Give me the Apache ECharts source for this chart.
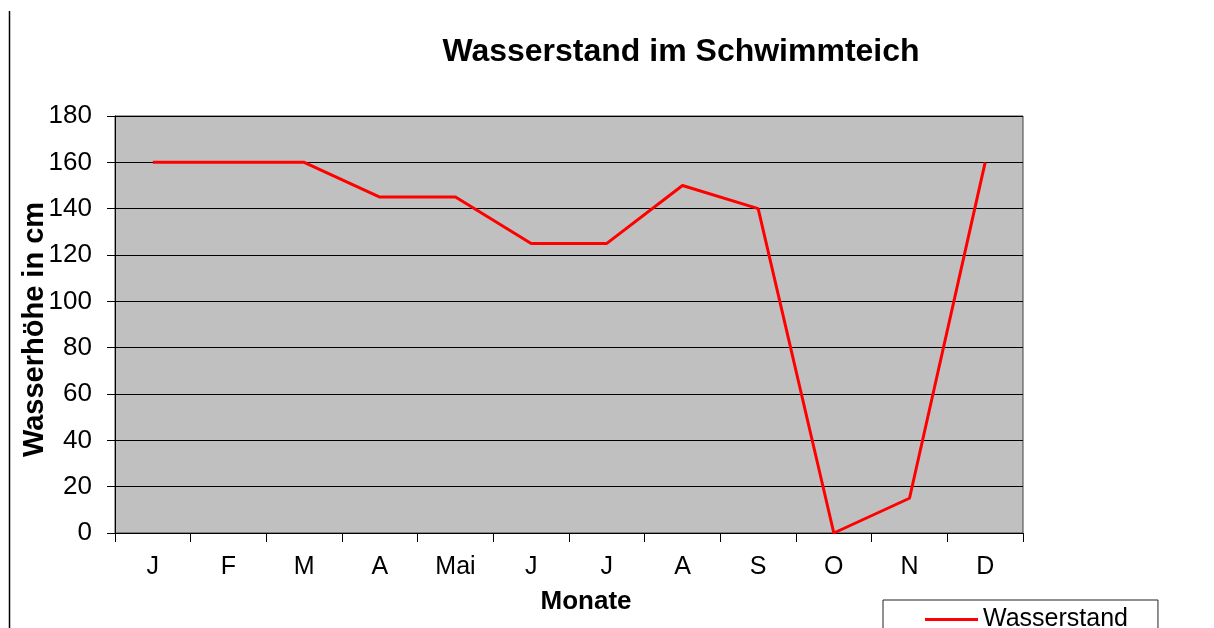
<!DOCTYPE html>
<html>
<head>
<meta charset="utf-8">
<script src="https://cdn.jsdelivr.net/npm/echarts@6/dist/echarts.min.js"></script>
<style>html,body{margin:0;padding:0;background:#fff;}#c{width:1214px;height:628px;}</style>
</head>
<body>
<div id="c"></div>
<script>
var categories = ['J','F','M','A','Mai','J','J','A','S','O','N','D'];
var wasserstand = [160,160,160,145,145,125,125,150,140,0,15,160];
var yMin = 0, yMax = 180, yStep = 20;
var titleText = 'Wasserstand im Schwimmteich';
var xName = 'Monate';
var yName = 'Wasserhöhe in cm';
var seriesName = 'Wasserstand';

var chart = echarts.init(document.getElementById('c'));
var ff = '"Liberation Sans", Arial, sans-serif';
chart.setOption({
  animation: false,
  backgroundColor: '#fff',
  textStyle: {fontFamily: ff},
  title: {
    text: titleText,
    left: 676, top: 31,
    textAlign: 'center',
    textStyle: {fontSize: 32, fontWeight: 'bold', color: '#000', fontFamily: ff}
  },
  grid: {left: 115, right: 191, top: 116, bottom: 95, show: true, backgroundColor: '#C0C0C0', borderColor: '#404040', borderWidth: 1},
  legend: {
    left: 883, top: 600,
    padding: [7, 30, 30, 42],
    itemWidth: 53, itemHeight: 3,
    icon: 'rect',
    borderColor: '#222', borderWidth: 1, borderRadius: 0,
    backgroundColor: '#fff',
    textStyle: {fontSize: 25, color: '#000', fontFamily: ff},
    data: [seriesName]
  },
  xAxis: {
    type: 'category',
    data: categories,
    boundaryGap: true,
    name: xName,
    nameLocation: 'middle',
    nameGap: 56,
    nameMoveOverlap: false,
    nameTextStyle: {fontSize: 26, fontWeight: 'bold', color: '#000', padding: [0,0,0,34]},
    axisLine: {lineStyle: {color: '#000', width: 1}},
    axisTick: {show: true, length: 9, lineStyle: {color: '#000'}},
    axisLabel: {fontSize: 25, color: '#000', margin: 22},
    splitLine: {show: false}
  },
  yAxis: {
    type: 'value',
    min: yMin, max: yMax, interval: yStep,
    name: yName,
    nameLocation: 'middle',
    nameGap: 66,
    nameMoveOverlap: false,
    nameTextStyle: {fontSize: 29, fontWeight: 'bold', color: '#000', padding: [0,10,0,0]},
    axisLine: {show: true, lineStyle: {color: '#000', width: 1}},
    axisTick: {show: true, length: 8, lineStyle: {color: '#000'}},
    axisLabel: {fontSize: 26, color: '#000', margin: 23},
    splitLine: {show: true, lineStyle: {color: '#000', width: 1}}
  },
  series: [{
    name: seriesName,
    type: 'line',
    data: wasserstand,
    symbol: 'none',
    lineStyle: {color: '#FF0000', width: 3},
    itemStyle: {color: '#FF0000'}
  }],
  graphic: [{
    type: 'line',
    shape: {x1: 9.5, y1: 11, x2: 9.5, y2: 628},
    style: {stroke: '#000', lineWidth: 1.5}
  }]
});
</script>
</body>
</html>
